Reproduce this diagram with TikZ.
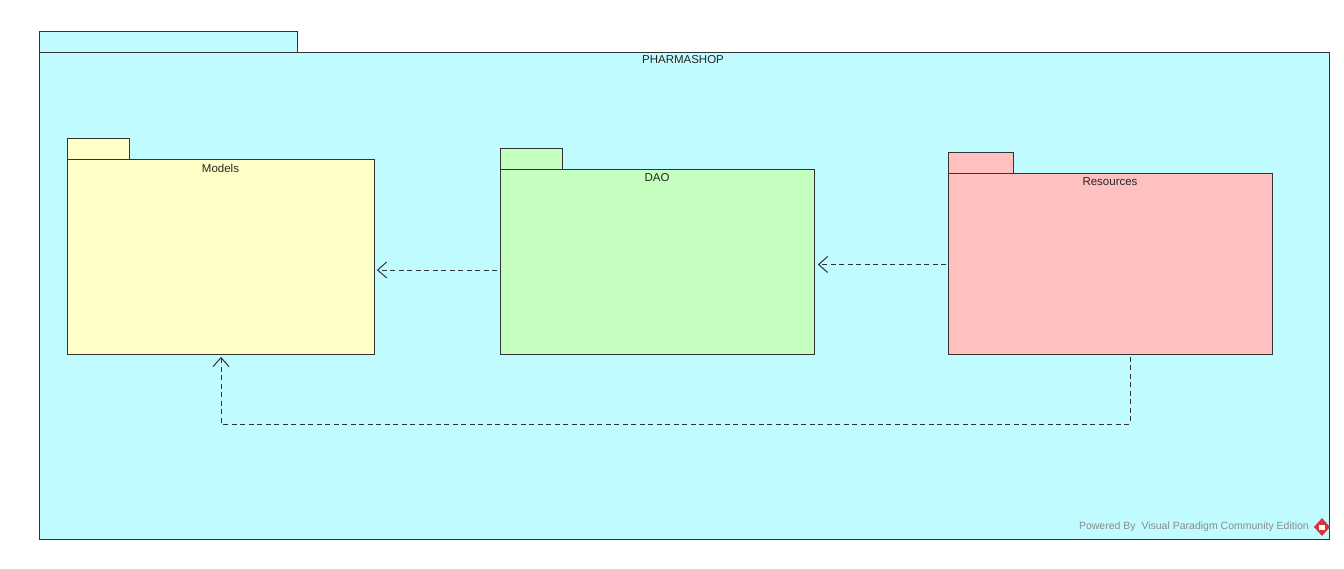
\documentclass[tikz,border=0pt]{standalone}
\usepackage{fontspec}
\setmainfont{Liberation Sans}
\usetikzlibrary{arrows.meta}
\definecolor{pkgcyan}{HTML}{C0FCFF}
\definecolor{pkgyellow}{HTML}{FFFFC8}
\definecolor{pkggreen}{HTML}{C4FFC0}
\definecolor{pkgred}{HTML}{FFC0C0}
\definecolor{pkgline}{HTML}{333333}
\definecolor{vpgray}{HTML}{8A8A8A}
\definecolor{vpred}{HTML}{D9343A}
\tikzset{
  pkg/.style={draw=pkgline, line width=0.9pt, rectangle, anchor=north west, inner sep=0pt},
  pkglabel/.style={font=\fontsize{11.5}{13}\selectfont, text=black!85, anchor=center, inner sep=0pt},
  dep/.style={draw=black!80, line width=0.9pt, dash pattern=on 5pt off 3.5pt, -{Straight Barb[length=9pt,width=16pt,line width=1pt]}},
}
\begin{document}
\begin{tikzpicture}[x=1pt,y=-1pt]
\useasboundingbox (0,0) rectangle (1344,568);
\fill[white] (0,0) rectangle (1344,568);
% main package
\node[pkg, fill=pkgcyan, minimum width=258pt, minimum height=21pt] (maintab) at (39,31) {};
\node[pkg, fill=pkgcyan, minimum width=1290pt, minimum height=487pt] (main) at (39,52) {};
\node[pkglabel] (mainlbl) at (683,60) {PHARMASHOP};
% Models
\node[pkg, fill=pkgyellow, minimum width=62pt, minimum height=21pt] (modelstab) at (67,138) {};
\node[pkg, fill=pkgyellow, minimum width=307pt, minimum height=195pt] (models) at (67,159) {};
\node[pkglabel] (modelslbl) at (220.5,168) {Models};
% DAO
\node[pkg, fill=pkggreen, minimum width=62pt, minimum height=21pt] (daotab) at (500,148) {};
\node[pkg, fill=pkggreen, minimum width=314pt, minimum height=185pt] (dao) at (500,169) {};
\node[pkglabel] (daolbl) at (657,178) {DAO};
% Resources
\node[pkg, fill=pkgred, minimum width=65pt, minimum height=21pt] (restab) at (948,152) {};
\node[pkg, fill=pkgred, minimum width=324pt, minimum height=181pt] (res) at (948,173) {};
\node[pkglabel] (reslbl) at (1110,182) {Resources};
% dependencies
\draw[dep, shorten <=3pt, shorten >=2pt] (dao.west |- 0,270) -- (models.east |- 0,270);
\draw[dep, shorten <=2pt, shorten >=3pt] (res.west |- 0,264.5) -- (dao.east |- 0,264.5);
\draw[dep, shorten <=2pt, shorten >=2pt] (res.south -| 1130,0) -- (1130,424) -| (models.south -| 221,0);
% watermark
\node[font=\fontsize{10.5}{12}\selectfont, text=vpgray, anchor=east, inner sep=0pt] (vp) at (1309,527) {Powered By\ \ Visual Paradigm Community Edition};
\fill[vpred] (1322,518) -- (1330,527) -- (1322,536) -- (1314,527) -- cycle;
\fill[white] (1319,524.5) rectangle (1325,529.5);
\end{tikzpicture}
\end{document}
